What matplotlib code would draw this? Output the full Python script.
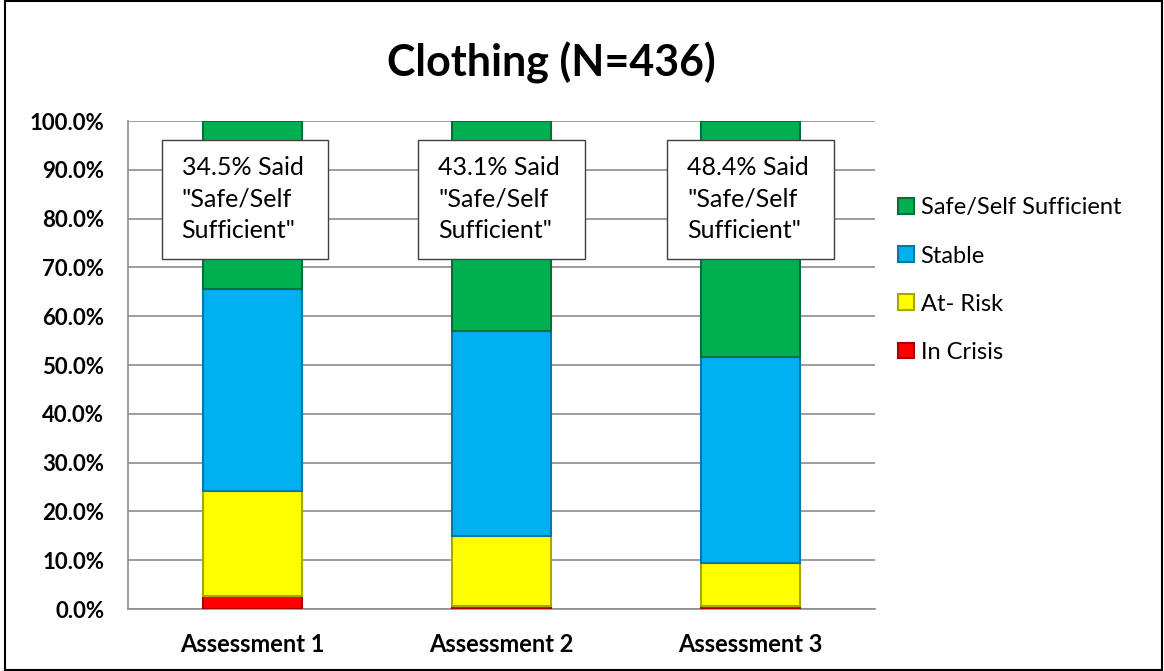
import numpy as np
import matplotlib.pyplot as plt
from matplotlib.patches import Rectangle

plt.rcParams['font.family'] = ['Lato', 'DejaVu Sans']

# data (percent of respondents)
categories = ['Assessment 1', 'Assessment 2', 'Assessment 3']
in_crisis = [2.7, 0.6, 0.6]
at_risk = [21.5, 14.4, 8.9]
stable = [41.3, 41.9, 42.1]
safe = [34.5, 43.1, 48.4]
series_names = ['In Crisis', 'At- Risk', 'Stable', 'Safe/Self Sufficient']
series_colors = ['#FF0000', '#FFFF00', '#00B0F0', '#00B050']
edge_colors = ['#A80000', '#A8A800', '#0078A8', '#00703A']
callouts = ['34.5% Said\n"Safe/Self\nSufficient"',
            '43.1% Said\n"Safe/Self\nSufficient"',
            '48.4% Said\n"Safe/Self\nSufficient"']

fig = plt.figure(figsize=(11.64, 6.71), dpi=100)
ax = fig.add_axes([128 / 1164, 62 / 671, 747 / 1164, 488 / 671])

x = np.arange(len(categories))
width = 0.40
bottom = np.zeros(len(categories))
handles = []
for vals, name, col, ecol in zip([in_crisis, at_risk, stable, safe],
                                 series_names, series_colors, edge_colors):
    bars = ax.bar(x, vals, width, bottom=bottom, color=col, edgecolor=ecol,
                  linewidth=1.5, label=name, zorder=3)
    handles.append(bars)
    bottom += np.array(vals)

ax.set_xlim(-0.5, 2.5)
ax.set_ylim(0, 100)
ax.set_yticks(np.arange(0, 101, 10))
ax.set_yticklabels([f'{v:.1f}%' for v in np.arange(0, 101, 10)],
                   fontsize=16, fontweight='bold')
ax.set_xticks(x)
ax.set_xticklabels(categories, fontsize=17, fontweight='bold')
ax.tick_params(axis='both', length=0)
ax.tick_params(axis='y', pad=17)
ax.tick_params(axis='x', pad=17)
ax.yaxis.grid(True, color='#8C8C8C', linewidth=1.2, zorder=0)
for side in ['top', 'right']:
    ax.spines[side].set_visible(False)
for side in ['left', 'bottom']:
    ax.spines[side].set_color('#8C8C8C')
    ax.spines[side].set_linewidth(1.2)

# callout boxes
box_w, box_h = 0.67, 24.4
offsets = [-0.03, 0.0, 0.0]
for xi, txt, off in zip(x, callouts, offsets):
    left = xi + off - box_w / 2
    ax.add_patch(Rectangle((left, 84 - box_h / 2), box_w, box_h,
                           facecolor='white', edgecolor='#404040',
                           linewidth=1, zorder=5))
    ax.text(left + 0.08, 84, txt, ha='left', va='center', fontsize=18,
            linespacing=1.45, zorder=6)

fig.text(551 / 1164, 1 - 63 / 671, 'Clothing (N=436)', ha='center',
         va='center', fontsize=31, fontweight='bold')

leg = ax.legend(handles[::-1], series_names[::-1], loc='center left',
                bbox_to_anchor=(1.031, 0.674), frameon=False, fontsize=17,
                borderpad=0, borderaxespad=0,
                handlelength=0.65, handleheight=0.65, handletextpad=0.3,
                labelspacing=1.15)

fig.patches.append(Rectangle((0.004, 0.002), 0.994, 0.996,
                             transform=fig.transFigure, fill=False,
                             edgecolor='black', linewidth=1.5))

fig.savefig('out.png', dpi=100)
